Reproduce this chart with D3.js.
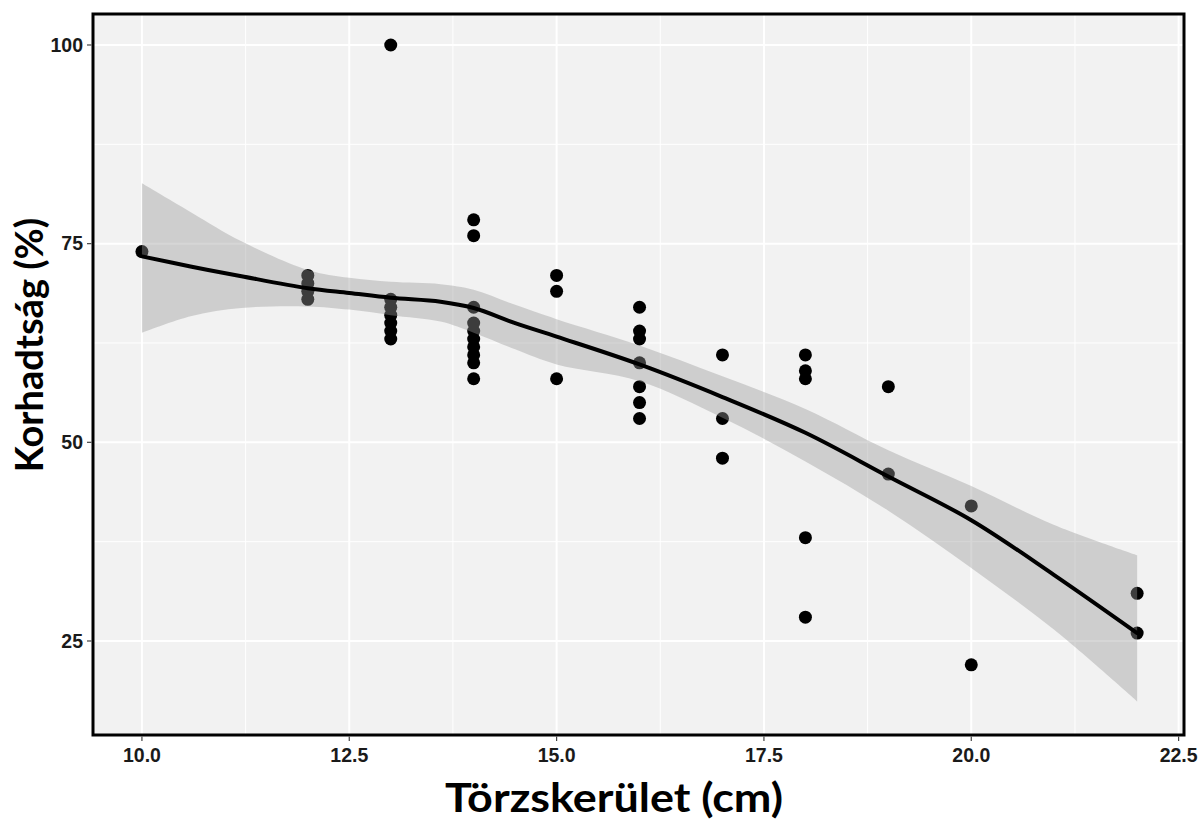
<!DOCTYPE html>
<html>
<head>
<meta charset="utf-8">
<script src="https://cdn.jsdelivr.net/npm/d3@7"></script>
<style>
  body { margin: 0; background: #fff; }
  svg { display: block; }
  .tick-label { font-family: "Liberation Sans", Arial, sans-serif; font-weight: bold; font-size: 19.5px; fill: #1a1a1a; }
  .axis-title { font-family: Lato, "Open Sans", sans-serif; font-weight: 700; font-size: 38px; fill: #000; }
</style>
</head>
<body>
<svg id="chart" width="1203" height="825"></svg>
<script>
// observations: tree girth (cm) vs decay (%)
const girth = [10, 12, 12, 12, 12, 13, 13, 13, 13, 13, 13, 13,
  14, 14, 14, 14, 14, 14, 14, 14, 14, 14, 15, 15, 15,
  16, 16, 16, 16, 16, 16, 16, 17, 17, 17, 18, 18, 18, 18, 18,
  19, 19, 20, 20, 22, 22];
const decay = [74, 71, 70, 69, 68, 100, 68, 67, 66, 65, 64, 63,
  78, 76, 67, 65, 64, 63, 62, 61, 60, 58, 71, 69, 58,
  67, 64, 63, 60, 57, 55, 53, 61, 53, 48, 61, 59, 58, 38, 28,
  57, 46, 42, 22, 31, 26];

// loess fit and its confidence band
const fitX = [10, 10.6, 11.2, 12, 12.5, 13, 13.6, 14, 14.5, 15, 16, 17, 18, 19, 20, 21, 22];
const fitY = [73.4, 72.1, 70.9, 69.4, 68.8, 68.2, 67.7, 66.9, 65.0, 63.3, 59.8, 55.7, 51.2, 45.7, 40.2, 33.3, 26];
const fitHi = [82.6, 78.9, 75.3, 71.7, 70.7, 70.2, 69.9, 69.2, 67.3, 65.5, 62.2, 58.3, 54.2, 49.0, 44.5, 39.6, 35.8];
const fitLo = [63.8, 65.9, 66.9, 67.1, 66.7, 66.0, 65.2, 63.8, 61.7, 59.8, 57.7, 53.1, 47.6, 41.4, 34.2, 26.4, 17.4];

const xTicks = [10, 12.5, 15, 17.5, 20, 22.5];
const xMinor = [11.25, 13.75, 16.25, 18.75, 21.25];
const yTicks = [25, 50, 75, 100];
const yMinor = [37.5, 62.5, 87.5];

const panel = { left: 93, right: 1184, top: 14, bottom: 735 };

const x = d3.scaleLinear().domain([9.41, 22.565]).range([panel.left, panel.right]);
const y = d3.scaleLinear().domain([13.17, 103.9]).range([panel.bottom, panel.top]);

const svg = d3.select('#chart');

svg.append('rect')
  .attr('x', panel.left).attr('y', panel.top)
  .attr('width', panel.right - panel.left).attr('height', panel.bottom - panel.top)
  .attr('fill', '#f2f2f2');

const grid = svg.append('g');
xMinor.forEach((v) => {
  grid.append('line').attr('x1', x(v)).attr('x2', x(v))
    .attr('y1', panel.top).attr('y2', panel.bottom)
    .attr('stroke', '#fff').attr('stroke-width', 1);
});
yMinor.forEach((v) => {
  grid.append('line').attr('y1', y(v)).attr('y2', y(v))
    .attr('x1', panel.left).attr('x2', panel.right)
    .attr('stroke', '#fff').attr('stroke-width', 1);
});
xTicks.forEach((v) => {
  grid.append('line').attr('x1', x(v)).attr('x2', x(v))
    .attr('y1', panel.top).attr('y2', panel.bottom)
    .attr('stroke', '#fff').attr('stroke-width', 2);
});
yTicks.forEach((v) => {
  grid.append('line').attr('y1', y(v)).attr('y2', y(v))
    .attr('x1', panel.left).attr('x2', panel.right)
    .attr('stroke', '#fff').attr('stroke-width', 2);
});

// points
svg.append('g').selectAll('circle')
  .data(girth.map((g, i) => [g, decay[i]]))
  .join('circle')
  .attr('cx', (d) => x(d[0]))
  .attr('cy', (d) => y(d[1]))
  .attr('r', 6.5)
  .attr('fill', '#000');

// smooth band + line
const fit = fitX.map((v, i) => ({ x: v, y: fitY[i], hi: fitHi[i], lo: fitLo[i] }));
const band = d3.area()
  .x((d) => x(d.x))
  .y0((d) => y(d.lo))
  .y1((d) => y(d.hi))
  .curve(d3.curveCatmullRom.alpha(0.5));
svg.append('path').attr('d', band(fit))
  .attr('fill', '#999').attr('fill-opacity', 0.4);

const line = d3.line()
  .x((d) => x(d.x))
  .y((d) => y(d.y))
  .curve(d3.curveCatmullRom.alpha(0.5));
svg.append('path').attr('d', line(fit))
  .attr('fill', 'none').attr('stroke', '#000')
  .attr('stroke-width', 4).attr('stroke-linecap', 'round');

// panel border
svg.append('rect')
  .attr('x', panel.left).attr('y', panel.top)
  .attr('width', panel.right - panel.left).attr('height', panel.bottom - panel.top)
  .attr('fill', 'none').attr('stroke', '#000').attr('stroke-width', 3);

// axes
const xAxis = svg.append('g');
xTicks.forEach((v) => {
  xAxis.append('line').attr('x1', x(v)).attr('x2', x(v))
    .attr('y1', panel.bottom + 1.5).attr('y2', panel.bottom + 6)
    .attr('stroke', '#444').attr('stroke-width', 1.2);
  xAxis.append('text').attr('class', 'tick-label')
    .attr('x', x(v)).attr('y', panel.bottom + 27)
    .attr('text-anchor', 'middle')
    .text(d3.format('.1f')(v));
});

const yAxis = svg.append('g');
yTicks.forEach((v) => {
  yAxis.append('line').attr('y1', y(v)).attr('y2', y(v))
    .attr('x1', panel.left - 6).attr('x2', panel.left - 1.5)
    .attr('stroke', '#444').attr('stroke-width', 1.2);
  yAxis.append('text').attr('class', 'tick-label')
    .attr('x', panel.left - 10).attr('y', y(v))
    .attr('dy', '0.35em')
    .attr('text-anchor', 'end')
    .text(v);
});

svg.append('text').attr('class', 'axis-title')
  .attr('x', 614).attr('y', 812)
  .attr('text-anchor', 'middle')
  .style('font-size', '41px')
  .attr('textLength', 338)
  .attr('lengthAdjust', 'spacingAndGlyphs')
  .text('Törzskerület (cm)');

svg.append('text').attr('class', 'axis-title')
  .attr('transform', 'translate(43,345) rotate(-90)')
  .attr('text-anchor', 'middle')
  .text('Korhadtság (%)');
</script>
</body>
</html>
